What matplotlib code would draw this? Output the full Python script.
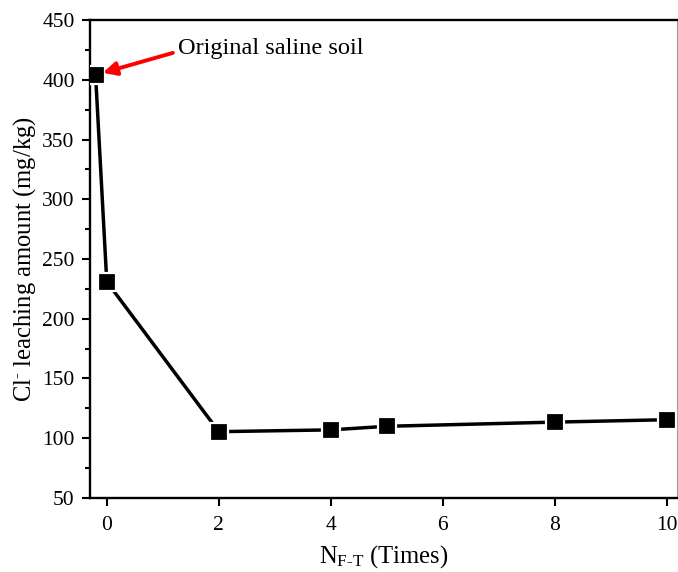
import matplotlib
matplotlib.use("Agg")
import matplotlib.pyplot as plt

# Cl- leaching vs freeze-thaw cycles
cycles = [-0.2, 0, 2, 4, 5, 8, 10]
cl_leach = [404, 231, 105.5, 107, 110, 113.5, 115.5]

plt.rcParams['font.family'] = ['Liberation Serif', 'DejaVu Serif']
plt.rcParams['mathtext.fontset'] = 'custom'
plt.rcParams['mathtext.rm'] = 'Liberation Serif'
plt.rcParams['mathtext.it'] = 'Liberation Serif:italic'

fig = plt.figure(figsize=(6.78, 5.72), dpi=100)
ax = fig.add_axes([0.1327, 0.1294, 0.8658, 0.8356])

ax.plot(cycles, cl_leach, color='black', lw=2.5, marker='s', ms=12.5,
        mfc='black', mec='white', mew=1.6, zorder=3)

ax.set_xlim(-0.3, 10.18)
ax.set_ylim(50, 450)
ax.set_xticks([0, 2, 4, 6, 8, 10])
ax.set_yticks(range(50, 451, 50))
ax.set_yticks(range(75, 450, 50), minor=True)

ax.tick_params(axis='both', which='major', direction='out', length=6, width=1.5,
               labelsize=15.5, pad=5)
ax.tick_params(axis='x', which='major', pad=7)
ax.tick_params(axis='y', which='minor', direction='out', length=3.5, width=1.5)
for side in ['left', 'bottom', 'top']:
    ax.spines[side].set_linewidth(1.7)
ax.spines['right'].set_linewidth(0.8)
ax.spines['right'].set_color('#999999')

ax.set_xlabel('N$_{\\mathrm{F\\text{-}T}}$ (Times)', fontsize=17.7, labelpad=6)
ax.set_ylabel('Cl$^{\\text{-}}$ leaching amount (mg/kg)', fontsize=17.7, labelpad=3)

# label for the untreated soil point
ax.text(1.27, 426.5, 'Original saline soil', fontsize=17.6, va='center', ha='left')
ax.annotate('', xy=(-0.07, 405.8), xytext=(1.18, 422.5),
            arrowprops=dict(arrowstyle='-|>', color='red', lw=2.8,
                            mutation_scale=20, shrinkA=0, shrinkB=0))

fig.savefig('out.png', dpi=100)
